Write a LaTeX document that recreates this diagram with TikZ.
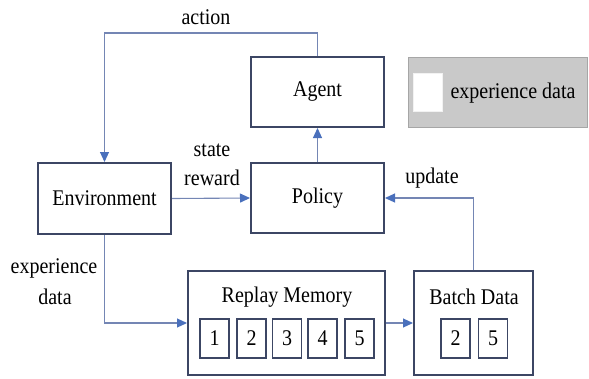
\documentclass[tikz,border=0pt]{standalone}
\usepackage{fontspec}
\setmainfont{Liberation Serif}
\usetikzlibrary{arrows.meta}
\definecolor{boxline}{HTML}{3C4664}
\definecolor{connline}{HTML}{7486B4}
\definecolor{tipcol}{HTML}{4A70BC}
\definecolor{leggray}{HTML}{C9C9C9}
\newcommand{\stx}[1]{\scalebox{1}[1.12]{#1}}
\tikzset{
  mainbox/.style={draw=boxline, line width=2pt, fill=white, minimum width=133pt, minimum height=70pt, inner sep=0pt, font=\fontsize{20}{23}\selectfont},
  bigbox/.style={draw=boxline, line width=2pt, fill=white, inner sep=0pt},
  cell/.style={draw=boxline, line width=1.8pt, fill=white, minimum width=29pt, minimum height=39pt, inner sep=0pt, font=\fontsize{20}{23}\selectfont},
  lbl/.style={inner sep=0pt, font=\fontsize{20}{23}\selectfont},
  conn/.style={draw=connline, line width=1.1pt, -{Triangle[length=10pt,width=9pt,fill=tipcol,color=tipcol]}}
}
\begin{document}
\begin{tikzpicture}[x=1pt,y=-1pt]
\useasboundingbox (0,0) rectangle (589,378);
% main boxes
\node[mainbox] (agent) at (317.5,92) {\stx{Agent}};
\node[mainbox, minimum height=71pt] (env) at (104.5,198.5) {\stx{Environment}};
\node[mainbox] (policy) at (317.5,198) {\stx{Policy}};
\node[bigbox, minimum width=197pt, minimum height=104pt] (replay) at (286.5,323) {};
\node[bigbox, minimum width=119pt, minimum height=104pt] (batch) at (473.5,323) {};
% legend
\node[draw=gray!70, line width=0.8pt, fill=leggray, minimum width=179pt, minimum height=70pt, inner sep=0pt] (legend) at (497.5,92) {};
\node[fill=white, draw=white!90!gray, minimum width=29pt, minimum height=38pt, inner sep=0pt] (legsq) at (427.5,92) {};
\node[lbl] (legtxt) at (513,93) {\stx{experience data}};
% titles
\node[lbl] (rmtitle) at (287,297) {\stx{Replay Memory}};
\node[lbl] (bdtitle) at (474,297) {\stx{Batch Data}};
% cells
\node[cell] (c1) at (214.5,338.5) {\stx{1}};
\node[cell] (c2) at (251.5,338.5) {\stx{2}};
\node[cell] (c3) at (287,338.5) {\stx{3}};
\node[cell] (c4) at (322.5,338.5) {\stx{4}};
\node[cell] (c5) at (359.5,338.5) {\stx{5}};
\node[cell] (b2) at (455.5,338.5) {\stx{2}};
\node[cell] (b5) at (493,338.5) {\stx{5}};
% labels
\node[lbl] (lact) at (206,17) {\stx{action}};
\node[lbl] (lstate) at (212,150) {\stx{state}};
\node[lbl] (lreward) at (212,178) {\stx{reward}};
\node[lbl] (lupd) at (432,178) {\stx{update}};
\node[lbl] (lexp) at (54,268) {\stx{experience}};
\node[lbl] (ldata) at (55,297) {\stx{data}};
% connectors
\draw[conn] (agent.north) -- ++(0,-23) -| (env.north);
\draw[conn] (env.east) -- (policy.west);
\draw[conn] (policy.north) -- (agent.south);
\draw[conn] (batch.north) |- (policy.east);
\draw[conn] (env.south) |- (replay.west);
\draw[conn] (replay.east) -- (batch.west);
\end{tikzpicture}
\end{document}
